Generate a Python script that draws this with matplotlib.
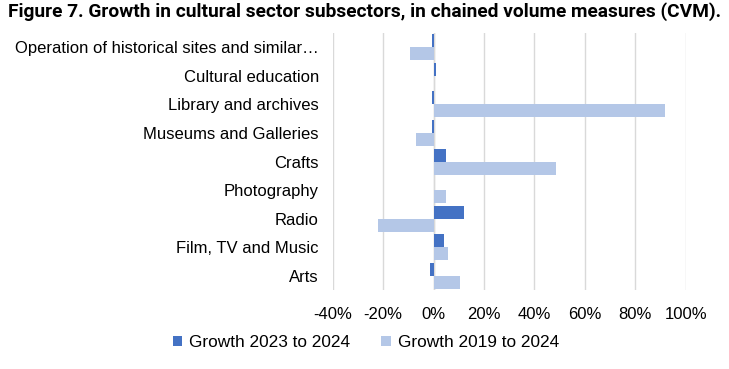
import matplotlib

matplotlib.use("Agg")

import matplotlib.pyplot as plt
import numpy as np
from matplotlib.ticker import FuncFormatter

categories = ["Operation of historical sites and similar…", "Cultural education",
              "Library and archives", "Museums and Galleries", "Crafts",
              "Photography", "Radio", "Film, TV and Music", "Arts"]
growth_23_24 = [-0.8, 1.1, -0.8, -0.8, 5.0, 0.0, 11.9, 4.2, -1.3]
growth_19_24 = [-9.4, 0.0, 91.9, -7.0, 48.6, 5.0, -22.2, 5.6, 10.5]
xticks = [-40, -20, 0, 20, 40, 60, 80, 100]

DARK = "#4472C4"
LIGHT = "#B4C7E7"
GRID = "#D9D9D9"

plt.rcParams["font.family"] = ["Liberation Sans", "DejaVu Sans"]

fig = plt.figure(figsize=(7.29, 3.69), dpi=100)
ax = fig.add_axes([0.4564, 0.214, 0.9406 - 0.4564, 0.6966])

y = np.arange(len(categories))
h = 0.455
ax.barh(y - h / 2, growth_23_24, height=h, color=DARK, label="Growth 2023 to 2024", zorder=3)
ax.barh(y + h / 2, growth_19_24, height=h, color=LIGHT, label="Growth 2019 to 2024", zorder=3)

ax.set_xlim(-40, 100)
ax.set_ylim(len(categories) - 0.5, -0.5)
ax.set_xticks(xticks)
ax.xaxis.set_major_formatter(FuncFormatter(lambda v, _: f"{v:.0f}%"))
ax.set_yticks(y)
ax.set_yticklabels(categories)
ax.tick_params(axis="both", length=0, labelsize=12, colors="#000000")
ax.tick_params(axis="y", pad=10)
ax.tick_params(axis="x", pad=12)
ax.grid(axis="x", color=GRID, lw=1, zorder=0)
ax.axvline(0, color=GRID, lw=1, zorder=2)
for s in ax.spines.values():
    s.set_visible(False)

fig.text(0.011, 0.968, "Figure 7. Growth in cultural sector subsectors, in chained volume measures (CVM).",
         fontsize=13.75, fontweight="bold", family=["Roboto", "DejaVu Sans"], va="center", ha="left")

fig.legend(loc="center", bbox_to_anchor=(0.502, 0.072), ncol=2, frameon=False, fontsize=12.4,
           handlelength=0.55, handleheight=0.55, handletextpad=0.4, columnspacing=1.8)

fig.savefig("out.png", dpi=100)
